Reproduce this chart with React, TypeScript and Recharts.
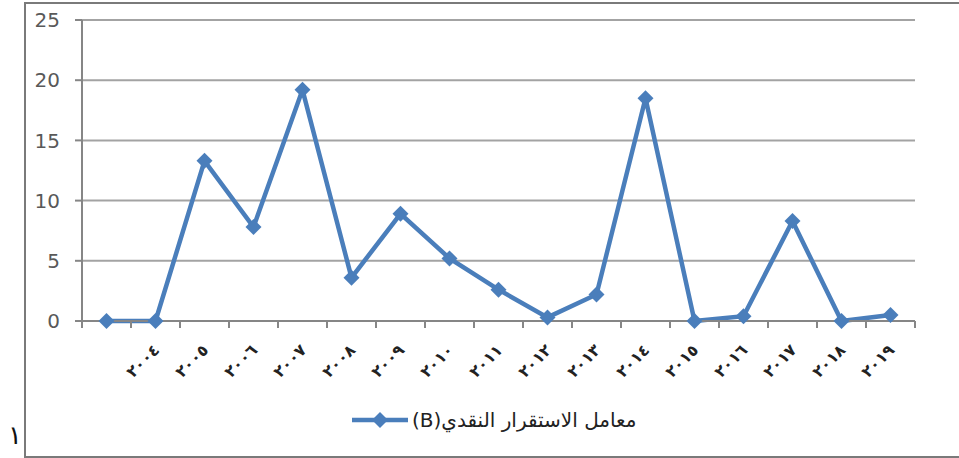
import { LineChart, Line, CartesianGrid, XAxis, YAxis } from 'recharts';

const years = ['', '٢٠٠٤', '٢٠٠٥', '٢٠٠٦', '٢٠٠٧', '٢٠٠٨', '٢٠٠٩', '٢٠١٠', '٢٠١١', '٢٠١٢', '٢٠١٣', '٢٠١٤', '٢٠١٥', '٢٠١٦', '٢٠١٧', '٢٠١٨', '٢٠١٩'];
const stability = [0, 0, 13.3, 7.8, 19.2, 3.6, 8.9, 5.2, 2.6, 0.3, 2.2, 18.5, 0, 0.4, 8.3, 0, 0.5];
const yTicks = [0, 5, 10, 15, 20, 25];
const seriesName = 'معامل الاستقرار النقدي(B)';

const data = years.map((y, i) => ({ year: y, value: stability[i] }));

const W = 959;
const H = 458;
const PLOT_LEFT = 82;
const PLOT_RIGHT = 915;
const HALF_BAND = (PLOT_RIGHT - PLOT_LEFT) / years.length / 2;
const BLUE = '#4a7ebb';
const AXIS = '#868686';

const Diamond = (props: any) => {
    const { cx, cy } = props;
    if (cx == null || cy == null) return null;
    const s = 8;
    return <polygon points={`${cx},${cy - s} ${cx + s},${cy} ${cx},${cy + s} ${cx - s},${cy}`} fill={BLUE} />;
};

const YearTick = (props: any) => {
    const { x, y, payload, index } = props;
    const last = index === years.length - 1;
    return (
        <g>
            <line x1={x - HALF_BAND} x2={x - HALF_BAND} y1={y - 8} y2={y - 1} stroke={AXIS} strokeWidth={2} />
            {last && <line x1={x + HALF_BAND} x2={x + HALF_BAND} y1={y - 8} y2={y - 1} stroke={AXIS} strokeWidth={2} />}
            <g transform={`translate(${x + 5},${y + 22}) rotate(-45)`}>
                <text x={0} y={0} textAnchor="end" fontSize={16} fontWeight="bold" fill="#222" letterSpacing={4}
                    fontFamily="'DejaVu Sans', sans-serif">
                    {payload.value}
                </text>
            </g>
        </g>
    );
};

const App = () => {
    return (
        <div style={{ position: 'absolute', left: 0, top: 0, width: W, height: H, background: '#fff', overflow: 'hidden' }}>
            <div style={{ position: 'absolute', left: 24, top: 2, width: W, height: 452, borderLeft: '2px solid #7a7a7a', borderTop: '2px solid #7a7a7a', borderBottom: '2px solid #7a7a7a' }} />
            <div style={{ position: 'absolute', left: 8, top: 420, fontSize: 26, fontFamily: "'DejaVu Sans', sans-serif", color: '#111' }}>١</div>
            <div style={{ position: 'absolute', left: 0, top: 0 }}>
                <LineChart width={W} height={H} data={data} margin={{ top: 20, right: W - PLOT_RIGHT, left: 25, bottom: 77 }}>
                    <CartesianGrid vertical={false} stroke="#a3a3a3" strokeWidth={2} />
                    <XAxis dataKey="year" interval={0} padding={{ left: HALF_BAND, right: HALF_BAND }}
                        tickLine={false} axisLine={{ stroke: AXIS, strokeWidth: 2 }} height={60} tick={<YearTick />} />
                    <YAxis domain={[0, 25]} ticks={yTicks} width={57} tickSize={7} tickMargin={15}
                        tickLine={{ stroke: AXIS, strokeWidth: 2 }} axisLine={{ stroke: AXIS, strokeWidth: 2 }}
                        tick={{ fontSize: 20, fill: '#595959', fontFamily: "'DejaVu Sans', sans-serif" }} />
                    <Line dataKey="value" stroke={BLUE} strokeWidth={4.5} dot={<Diamond />} activeDot={false} isAnimationActive={false} />
                </LineChart>
            </div>
            <div style={{ position: 'absolute', left: 352, top: 408, display: 'flex', alignItems: 'center', gap: 4 }}>
                <svg width={56} height={20}>
                    <line x1={0} x2={56} y1={10} y2={10} stroke={BLUE} strokeWidth={4.5} />
                    <polygon points="28,2 36,10 28,18 20,10" fill={BLUE} />
                </svg>
                <span dir="rtl" style={{ fontSize: 20, fontFamily: "'DejaVu Sans', sans-serif", color: '#222', whiteSpace: 'nowrap' }}>{seriesName}</span>
            </div>
        </div>
    );
};

export default App;
